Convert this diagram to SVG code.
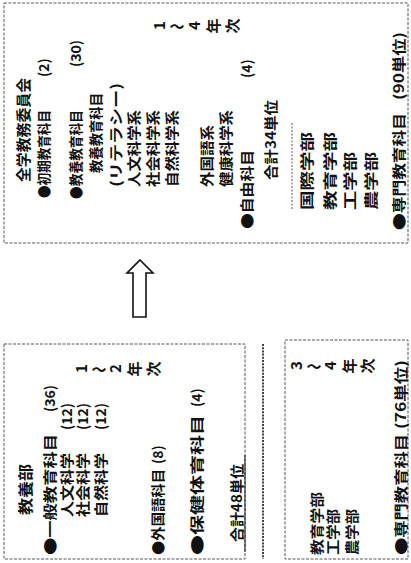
<svg xmlns="http://www.w3.org/2000/svg" width="411" height="563" viewBox="0 0 411 563">
<style>
.box{fill:none;stroke:#555;stroke-width:1;stroke-dasharray:3 1.5}
.sep{stroke:#555;stroke-width:1;stroke-dasharray:2 1.5}
.t{font-family:"Noto Sans CJK JP","Noto Sans CJK SC",sans-serif;font-size:14px;font-weight:bold;fill:#111}
.s15{font-size:15px}
.arrow{fill:#fff;stroke:#111;stroke-width:1.6;stroke-linejoin:miter}
</style>
<rect width="411" height="563" fill="#fff"/>

<g id="node-zengaku">
  <rect class="box" x="4" y="3" width="404" height="240"/>
  <line class="sep" x1="292" y1="123" x2="292" y2="210"/>
  <g transform="translate(0,563) rotate(-90)" class="t">
    <text class="s15" x="381" y="29" textLength="104" lengthAdjust="spacingAndGlyphs">全学教務委員会</text>
    <text x="365" y="49" textLength="88" lengthAdjust="spacingAndGlyphs">●初期教育科目</text>
    <text x="486" y="49">(2)</text>
    <text x="364" y="81" textLength="89" lengthAdjust="spacingAndGlyphs">●教養教育科目</text>
    <text x="496" y="81">(30)</text>
    <text x="390" y="101" textLength="80" lengthAdjust="spacingAndGlyphs">教養教育科目</text>
    <text x="376" y="121" textLength="104" lengthAdjust="spacingAndGlyphs">(リテラシー)</text>
    <text x="376" y="139" textLength="77" lengthAdjust="spacingAndGlyphs">人文科学系</text>
    <text x="376" y="158" textLength="77" lengthAdjust="spacingAndGlyphs">社会科学系</text>
    <text x="376" y="177" textLength="77" lengthAdjust="spacingAndGlyphs">自然科学系</text>
    <text x="376" y="212" textLength="62" lengthAdjust="spacingAndGlyphs">外国語系</text>
    <text x="376" y="231" textLength="77" lengthAdjust="spacingAndGlyphs">健康科学系</text>
    <text x="334" y="252" textLength="79" lengthAdjust="spacingAndGlyphs">●自由科目</text>
    <text x="485" y="252">(4)</text>
    <text x="383" y="276" textLength="80" lengthAdjust="spacingAndGlyphs">合計34単位</text>
    <text x="353" y="312" textLength="78" lengthAdjust="spacingAndGlyphs">国際学部</text>
    <text x="353" y="335" textLength="78" lengthAdjust="spacingAndGlyphs">教育学部</text>
    <text x="353" y="355" textLength="58" lengthAdjust="spacingAndGlyphs">工学部</text>
    <text x="353" y="376" textLength="58" lengthAdjust="spacingAndGlyphs">農学部</text>
    <text x="333" y="404" textLength="117" lengthAdjust="spacingAndGlyphs">●専門教育科目</text>
    <text x="463" y="404" textLength="68" lengthAdjust="spacingAndGlyphs">(90単位)</text>
    <text class="s15"><tspan x="532.9" y="165.4">1</tspan><tspan x="531.3" y="169.5" rotate="90">〜</tspan><tspan x="532.9" y="200.4">4</tspan><tspan x="529.5" y="218.7">年</tspan><tspan x="529.5" y="237.7">次</tspan></text>
  </g>
</g>

<g id="node-kyoyobu">
  <rect class="box" x="4" y="344" width="241" height="215"/>
  <line x1="245" y1="455" x2="245" y2="552" stroke="#111" stroke-width="1"/>
  <g transform="translate(0,563) rotate(-90)" class="t">
    <text class="s15" x="48" y="31" textLength="51" lengthAdjust="spacingAndGlyphs">教養部</text>
    <text x="8" y="55" textLength="121" lengthAdjust="spacingAndGlyphs">●一般教育科目</text>
    <text x="151" y="55">(36)</text>
    <text x="46" y="72" textLength="64" lengthAdjust="spacingAndGlyphs">人文科学</text>
    <text x="133" y="72">(12)</text>
    <text x="46" y="88" textLength="64" lengthAdjust="spacingAndGlyphs">社会科学</text>
    <text x="133" y="88">(12)</text>
    <text x="46" y="106" textLength="64" lengthAdjust="spacingAndGlyphs">自然科学</text>
    <text x="133" y="106">(12)</text>
    <text class="s15"><tspan x="189.9" y="87.4">1</tspan><tspan x="188.3" y="91.5" rotate="90">〜</tspan><tspan x="189.9" y="121.4">2</tspan><tspan x="186.5" y="139.7">年</tspan><tspan x="186.5" y="158.7">次</tspan></text>
    <text x="8" y="163" textLength="86" lengthAdjust="spacingAndGlyphs">●外国語科目</text>
    <text x="99" y="163">(8)</text>
    <text x="8" y="202" textLength="140" lengthAdjust="spacingAndGlyphs">●保健体育科目</text>
    <text x="156" y="202">(4)</text>
    <text x="21" y="242" textLength="78" lengthAdjust="spacingAndGlyphs">合計48単位</text>
  </g>
</g>

<g id="divider">
  <line x1="263" y1="344" x2="263" y2="559" stroke="#111" stroke-width="1.6" stroke-dasharray="2 1.2"/>
</g>

<g id="node-senmon">
  <rect class="box" x="285" y="340" width="123" height="219"/>
  <g transform="translate(0,563) rotate(-90)" class="t">
    <text class="s15"><tspan x="192.9" y="302.4">3</tspan><tspan x="191.3" y="306.5" rotate="90">〜</tspan><tspan x="192.9" y="336.4">4</tspan><tspan x="189.5" y="354.7">年</tspan><tspan x="189.5" y="372.7">次</tspan></text>
    <text x="8" y="322" textLength="63" lengthAdjust="spacingAndGlyphs">教育学部</text>
    <text x="8" y="338" textLength="46" lengthAdjust="spacingAndGlyphs">工学部</text>
    <text x="8" y="357" textLength="46" lengthAdjust="spacingAndGlyphs">農学部</text>
    <text x="8" y="406" textLength="121" lengthAdjust="spacingAndGlyphs">●専門教育科目</text>
    <text x="134" y="406" textLength="69" lengthAdjust="spacingAndGlyphs">(76単位)</text>
  </g>
</g>

<g id="connectors">
  <polygon class="arrow" points="140,260 153,273 146,273 146,317 133,317 133,273 127,273"/>
</g>
</svg>
